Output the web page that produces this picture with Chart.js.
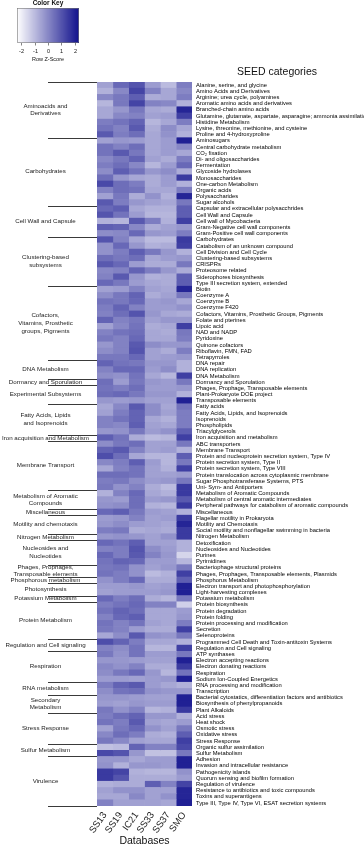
<!DOCTYPE html>
<html><head><meta charset="utf-8">
<script src="https://cdn.jsdelivr.net/npm/chart.js@4.4.1/dist/chart.umd.min.js"></script>
<style>html,body{margin:0;padding:0;background:#fff;}#wrap{width:364px;height:850px;}</style>
</head><body><div id="wrap"><canvas id="c" width="364" height="850"></canvas></div>
<script>
const FONT = "'Liberation Sans', Arial, Helvetica, sans-serif";
const columns = ["SS13","SS19","IC21","SS33","SS37","SMO"];
const groupNames = [
 ["Aminoacids and","Derivatives"],["Carbohydrates"],["Cell Wall and Capsule"],["Clustering-based","subsystems"],
 ["Cofactors,","Vitamins, Prosthetic","groups, Pigments"],["DNA Metabolism"],["Dormancy and Sporulation"],["Experimental Subsystems"],
 ["Fatty Acids, Lipids","and Isoprenoids"],["Iron acquisition and Metabolism"],["Membrane Transport"],["Metabolism of Aromatic","Compounds"],
 ["Miscellaneous"],["Motility and chemotaxis"],["Nitrogen Metabolism"],["Nucleosides and","Nucleotides"],
 ["Phages, Prophages,","Transposable elements"],["Phosphorous metabolism"],["Photosynthesis"],["Potassium Metabolism"],
 ["Protein Metabolism"],["Regulation and Cell signaling"],["Respiration"],["RNA metabolism"],["Secondary","Metabolism"],
 ["Stress Response"],["Sulfur Metabolism"],["Virulence"]
];
const rowLabels = [
 "Alanine, serine, and glycine","Amino Acids and Derivatives","Arginine; urea cycle, polyamines","Aromatic amino acids and derivatives","Branched-chain amino acids","Glutamine, glutamate, aspartate, asparagine; ammonia assimilation","Histidine Metabolism","Lysine, threonine, methionine, and cysteine","Proline and 4-hydroxyproline",
 "Aminosugars","Central carbohydrate metabolism","CO\u2082 fixation","Di- and oligosaccharides","Fermentation","Glycoside hydrolases","Monosaccharides","One-carbon Metabolism","Organic acids","Polysaccharides","Sugar alcohols",
 "Capsular and extracellular polysacchrides","Cell Wall and Capsule","Cell wall of Mycobacteria","Gram-Negative cell wall components","Gram-Positive cell wall components",
 "Carbohydrates","Catabolism of an unknown compound","Cell Division and Cell Cycle","Clustering-based subsystems","CRISPRs","Proteosome related","Siderophores biosynthesis","Type III secretion system, extended",
 "Biotin","Coenzyme A","Coenzyme B","Coenzyme F420","Cofactors, Vitamins, Prosthetic Groups, Pigments","Folate and pterines","Lipoic acid","NAD and NADP","Pyridoxine","Quinone cofactors","Riboflavin, FMN, FAD","Tetrapyrroles",
 "DNA repair","DNA replication","DNA Metabolism",
 "Dormancy and Sporulation",
 "Phages, Prophage, Transposable elements","Plant-Prokaryote DOE project","Transposable elements",
 "Fatty acids","Fatty Acids, Lipids, and Isoprenoids","Isoprenoids","Phospholipids","Triacylglycerols",
 "Iron acquisition and metabolism",
 "ABC transporters","Membrane Transport","Protein and nucleoprotein secretion system, Type IV","Protein secretion system, Type II","Protein secretion system, Type VIII","Protein translocation across cytoplasmic membrane","Sugar Phosphotransferase Systems, PTS","Uni- Sym- and Antiporters",
 "Metabolism of Aromatic Compounds","Metabolism of central aromatic intermediates","Peripheral pathways for catabolism of aromatic compounds",
 "Miscellaneous",
 "Flagellar motility in Prokaryota","Motility and Chemotaxis","Social motility and nonflagellar swimming in bacteria",
 "Nitrogen Metabolism",
 "Detoxification","Nucleosides and Nucleotides","Purines","Pyrimidines",
 "Bacteriophage structural proteins","Phages, Prophages, Transposable elements, Plasmids",
 "Phosphorus Metabolism",
 "Electron transport and photophosphorylation","Light-harvesting complexes",
 "Potassium metabolism",
 "Protein biosynthesis","Protein degradation","Protein folding","Protein processing and modification","Secretion","Selenoproteins",
 "Programmed Cell Death and Toxin-antitoxin Systems","Regulation and Cell signaling",
 "ATP synthases","Electron accepting reactions","Electron donating reactions","Respiration","Sodium Ion-Coupled Energetics",
 "RNA processing and modification","Transcription",
 "Bacterial cytostatics, differentiation factors and antibiotics","Biosynthesis of phenylpropanoids","Plant Alkaloids",
 "Acid stress","Heat shock","Osmotic stress","Oxidative stress","Stress Response",
 "Organic sulfur assimilation","Sulfur Metabolism",
 "Adhesion","Invasion and intracellular resistance","Pathogenicity islands","Quorum sensing and biofilm formation","Regulation of virulence","Resistance to antibiotics and toxic compounds","Toxins and superantigens","Type III, Type IV, Type VI, ESAT secretion systems"
];
// Row z-scores per group, columns: SS13, SS19, IC21, SS33, SS37, SMO
const zAmino = [[-0.5,0.6,1.0,-0.4,-1.0,0.2],[-0.8,0.0,1.3,0.1,-0.6,0.0],[0.0,0.3,0.8,-0.7,-0.6,0.2],[-0.9,0.3,1.3,0.1,0.0,-0.8],[-0.6,-0.3,0.3,-0.6,-0.7,1.9],[-0.6,0.0,0.1,-0.5,-0.4,1.4],[0.2,0.4,0.7,-0.9,-0.6,0.2],[0.4,0.1,0.9,-0.7,-0.1,-0.6],[0.9,0.2,0.5,-0.6,-0.2,-0.8]];
const zCarb = [[-0.5,-0.3,-0.4,-0.6,-0.4,2.0],[0.4,0.1,0.5,-0.6,-0.4,0.0],[0.4,0.9,0.3,-0.6,-0.4,-0.6],[0.0,0.3,0.7,-0.5,-0.7,0.2],[0.2,0.5,0.0,-0.9,-0.4,0.6],[-0.1,0.8,0.4,-0.3,-0.1,-0.7],[0.5,-0.3,-0.6,-0.7,-0.4,1.5],[1.2,0.5,0.2,-0.7,-0.4,-0.8],[0.1,0.5,0.4,-0.6,-0.6,0.2],[-0.5,0.3,-0.7,-0.2,-0.8,1.9],[0.9,0.2,-0.3,-0.5,-0.6,0.3]];
const zCellWall = [[0.6,0.8,-0.6,-0.8,-0.8,0.8],[1.0,0.4,-0.4,-0.9,-0.9,0.8],[-0.8,-0.9,0.9,0.2,-0.8,1.4],[0.8,0.7,0.0,-0.7,-0.5,-0.3],[-0.1,0.0,0.6,-0.3,-0.4,0.2]];
const zCluster = [[1.0,0.1,-0.6,-1.0,-1.0,1.5],[-0.2,0.6,-0.3,-0.8,-0.7,1.4],[-0.2,0.2,0.8,0.3,-0.3,-0.8],[0.5,0.3,0.5,-0.6,-0.4,-0.3],[0.9,0.6,-0.4,-0.7,-0.7,0.3],[0.0,0.1,0.7,0.2,-0.3,-0.7],[0.1,0.9,-0.3,-0.8,-0.7,0.8],[0.6,0.3,-0.4,-0.6,-0.7,0.8]];
const zCofactor = [[-0.5,-0.4,0.1,-0.5,-0.6,1.9],[-0.1,0.3,0.7,-0.7,-0.5,0.3],[0.4,0.3,0.6,-0.4,-0.3,-0.6],[0.2,0.7,0.1,-0.4,-0.4,-0.2],[0.1,0.5,1.0,-0.3,-0.6,-0.7],[0.7,0.1,0.3,-0.5,-0.3,-0.3],[-0.5,0.0,0.4,-0.7,-0.6,1.4],[0.1,0.4,0.5,-0.6,-0.7,0.3],[0.3,0.1,0.6,-0.6,-0.6,0.2],[-0.3,0.1,0.9,-0.1,-0.3,-0.3],[-0.1,0.1,1.0,-0.5,-0.7,0.2],[0.3,0.3,0.6,-0.5,-0.4,-0.3]];
const zDNA = [[0.7,0.4,0.3,-0.3,-0.3,-0.8],[0.1,0.6,0.6,-0.4,-0.1,-0.8],[-0.1,-0.2,0.4,-0.6,-0.9,1.4]];
const zDormancy = [[0.5,-0.4,0.3,-0.3,-0.4,0.3]];
const zExperimental = [[0.4,0.2,0.5,-0.4,-0.4,-0.3],[0.5,0.6,0.3,-0.3,-0.3,-0.8],[-0.3,-0.4,-0.3,-0.5,-0.5,2.0]];
const zFatty = [[-0.6,0.0,0.9,-0.1,-0.6,0.4],[-0.5,0.2,0.7,-0.1,-0.5,0.2],[0.1,0.4,0.7,-0.6,-0.8,0.2],[0.1,0.0,0.8,-0.5,-0.6,0.2],[-0.3,-0.2,0.3,-0.4,-0.2,0.8]];
const zIron = [[0.8,0.4,-0.7,-1.0,-0.9,1.4]];
const zMembrane = [[-0.1,0.3,0.5,-0.5,-0.5,0.3],[0.7,0.9,0.1,-0.5,-0.4,-0.8],[1.1,0.5,-0.6,-0.9,-0.9,0.8],[0.0,0.2,0.8,-0.4,-0.9,0.3],[-0.6,0.1,0.4,-0.5,-0.8,1.4],[0.5,0.5,0.4,-0.5,-0.5,-0.4],[0.2,0.3,-0.1,-0.4,-0.3,0.3],[0.3,-0.2,0.1,-0.7,-1.0,1.5]];
const zAromatic = [[-0.8,0.1,0.6,-0.6,-0.8,1.5],[-0.3,-0.4,0.5,-0.4,-0.3,0.9],[-0.2,-0.1,0.5,-0.8,-0.9,1.5]];
const zMisc = [[0.6,0.8,0.3,-0.4,-0.5,-0.8]];
const zMotility = [[-0.4,-0.3,0.1,-0.5,-0.4,1.5],[-0.3,-0.1,-0.4,-0.5,-0.6,1.9],[0.2,0.3,-0.7,-0.6,-0.7,1.5]];
const zNitrogen = [[-0.3,-0.2,-0.3,-0.5,-0.2,1.5]];
const zNucleo = [[0.6,0.4,0.8,-0.5,-0.5,-0.8],[0.1,0.2,1.0,-0.1,-0.4,-0.8],[0.6,0.2,0.9,0.1,-0.3,-1.5],[0.4,0.7,0.6,-0.4,-0.4,-0.9]];
const zPhages = [[0.3,0.4,-0.2,-0.5,-0.3,0.3],[0.4,0.2,-0.2,-1.0,-0.8,1.4]];
const zPhosphorus = [[-0.2,0.2,0.6,-0.7,-0.7,0.8]];
const zPhoto = [[-0.4,-0.4,-0.3,-0.5,-0.4,2.0],[-0.5,-0.4,-0.4,-0.4,-0.3,2.0]];
const zPotassium = [[0.6,0.2,0.5,-0.7,-0.9,0.3]];
const zProtein = [[0.2,0.4,0.6,0.1,0.1,-1.4],[0.4,0.7,0.5,-0.6,-0.6,-0.4],[0.1,0.6,0.8,-0.6,-0.6,-0.3],[0.4,0.1,0.4,-0.5,-0.6,0.2],[0.3,0.1,-0.4,-0.7,-0.7,1.4],[-0.6,-0.1,0.9,-0.2,-0.3,0.3]];
const zRegulation = [[1.1,0.7,0.2,-0.6,-0.6,-0.8],[0.1,-0.1,0.4,-0.9,-0.9,1.4]];
const zRespiration = [[0.3,-0.2,0.4,-0.4,-0.4,0.3],[-0.3,-0.3,-0.4,-0.5,-0.5,2.0],[0.0,-0.2,0.1,-0.7,-0.7,1.5],[-0.1,0.3,0.6,-0.3,-0.9,0.4],[-0.4,-0.4,-0.5,-0.4,-0.3,2.0]];
const zRNA = [[0.2,0.7,0.9,-0.4,-0.6,-0.8],[-0.1,0.4,0.5,-0.2,-0.3,-0.3]];
const zSecondary = [[-0.3,-0.3,-0.4,-0.5,-0.5,2.0],[-0.4,-0.5,-0.3,-0.4,-0.4,2.0],[0.3,-0.2,0.1,-0.9,-0.8,1.5]];
const zStress = [[0.2,0.5,0.7,-0.3,-0.3,-0.8],[0.4,0.2,0.9,-0.5,-0.6,-0.4],[-0.5,0.3,0.6,-0.2,-0.5,0.3],[0.0,0.5,0.2,-0.7,-0.8,0.8],[0.3,0.0,-0.5,-0.6,-0.6,1.4]];
const zSulfur = [[-1.1,-1.0,0.7,0.1,0.1,1.2],[1.2,1.0,-0.3,-1.1,-1.1,0.3]];
const zVirulence = [[-0.3,-0.3,-0.6,-0.4,-0.4,2.0],[-0.2,-0.8,-0.3,-0.3,-0.4,2.0],[1.5,1.3,-0.8,-0.9,-0.9,-0.2],[1.5,1.0,-0.7,-0.7,-0.7,-0.4],[-0.8,-0.7,-0.7,0.8,0.1,1.3],[-0.5,-0.2,-0.2,-0.5,-0.5,1.9],[-0.6,-0.6,0.0,-0.5,-0.2,1.9],[0.1,-0.5,-0.5,-0.5,-0.6,2.0]];

const groupZ = [zAmino,zCarb,zCellWall,zCluster,zCofactor,zDNA,zDormancy,zExperimental,zFatty,zIron,zMembrane,zAromatic,zMisc,zMotility,zNitrogen,zNucleo,zPhages,zPhosphorus,zPhoto,zPotassium,zProtein,zRegulation,zRespiration,zRNA,zSecondary,zStress,zSulfur,zVirulence];
const zRows = groupZ.flat();

const LOW = [255,255,255], HIGH = [16,16,140], ZMIN = -2.3, ZMAX = 2.3;
function colorFor(z){
  const t = Math.max(0, Math.min(1, (z - ZMIN) / (ZMAX - ZMIN)));
  const c = LOW.map((l,i)=>Math.round(l + (HIGH[i]-l)*t));
  return `rgb(${c[0]},${c[1]},${c[2]})`;
}
const groupBounds = [-0.5], groupCenters = [];
{ let s = 0; groupZ.forEach(g => { groupCenters.push(s + (g.length-1)/2); s += g.length; groupBounds.push(s - 0.5); }); }

const datasets = columns.map((name, ci) => ({
  label: name,
  data: zRows.map(() => [ci, ci + 1]),
  backgroundColor: zRows.map(r => colorFor(r[ci])),
  borderWidth: 0, barPercentage: 1, categoryPercentage: 1, grouped: false,
  xAxisID: 'x', yAxisID: 'y'
}));

const decor = {
  id: 'decor',
  afterDraw(chart){
    const ctx = chart.ctx, ys = chart.scales.yg, ca = chart.chartArea;
    ctx.save();
    ctx.strokeStyle = '#3a3a3a'; ctx.lineWidth = 1;
    groupBounds.forEach(v => {
      const y = Math.round(ys.getPixelForValue(v)) + 0.5;
      ctx.beginPath(); ctx.moveTo(48, y); ctx.lineTo(ca.left, y); ctx.stroke();
    });
    ctx.fillStyle = '#111'; ctx.font = `10.5px ${FONT}`; ctx.textAlign = 'center'; ctx.textBaseline = 'middle';
    ctx.fillText('SEED categories', 277, 72);
    const kx0 = 17, kx1 = 79, ky0 = 8, ky1 = 43;
    for (let x = kx0; x < kx1; x++) {
      const z = ZMIN + (x + 0.5 - kx0) / (kx1 - kx0) * (ZMAX - ZMIN);
      ctx.fillStyle = colorFor(z); ctx.fillRect(x, ky0, 1, ky1 - ky0);
    }
    ctx.strokeStyle = '#777'; ctx.lineWidth = 0.6; ctx.strokeRect(kx0 + 0.5, ky0 + 0.5, kx1 - kx0 - 1, ky1 - ky0 - 1);
    ctx.fillStyle = '#111'; ctx.font = `bold 6.5px ${FONT}`; ctx.fillText('Color Key', 48, 3.5);
    ctx.font = `5.5px ${FONT}`; ctx.strokeStyle = '#333';
    [-2,-1,0,1,2].forEach(t => {
      const x = Math.round(kx0 + (t - ZMIN) / (ZMAX - ZMIN) * (kx1 - kx0)) + 0.5;
      ctx.beginPath(); ctx.moveTo(x, ky1); ctx.lineTo(x, ky1 + 2.5); ctx.stroke();
      ctx.fillText(String(t), x, 51);
    });
    ctx.fillText('Row Z-Score', 48, 59.5);
    ctx.restore();
  }
};

new Chart(document.getElementById('c'), {
  type: 'bar',
  data: { labels: rowLabels, datasets },
  options: {
    indexAxis: 'y', responsive: false, animation: false, devicePixelRatio: 1,
    layout: { padding: { top: 82, left: 0, right: 0, bottom: 0 } },
    plugins: { legend: { display: false }, tooltip: { enabled: false }, title: { display: false } },
    scales: {
      x: {
        type: 'linear', position: 'bottom', min: 0, max: columns.length,
        grid: { display: false, drawTicks: false }, border: { display: false },
        afterBuildTicks: s => { s.ticks = columns.map((c, i) => ({ value: i + 0.5 })); },
        ticks: { autoSkip: false, minRotation: 55, maxRotation: 55, padding: 4, color: '#222',
                 font: { size: 9.5, family: FONT }, callback: v => columns[Math.floor(v)] },
        title: { display: true, text: 'Databases', color: '#111', font: { size: 10.5, family: FONT }, padding: { top: 0, bottom: 3 } },
        afterFit: s => { s.height = 44; }
      },
      y: {
        type: 'category', position: 'right', offset: true,
        grid: { display: false, drawTicks: false, offset: true }, border: { display: false },
        ticks: { autoSkip: false, padding: 4, color: '#000', font: { size: 5.8, family: FONT } },
        afterFit: s => { s.width = 172; }
      },
      yg: {
        type: 'linear', position: 'left', offset: false, min: -0.5, max: rowLabels.length - 0.5, reverse: true,
        grid: { display: false, drawTicks: false, offset: false }, border: { display: false },
        afterBuildTicks: s => { s.ticks = groupCenters.map(v => ({ value: v })); },
        ticks: { autoSkip: false, crossAlign: 'center', padding: 8, color: '#222',
                 font: { size: 6.2, family: FONT, lineHeight: 1.25 }, callback: (v, i) => groupNames[i] },
        afterFit: s => { s.width = 97; }
      }
    }
  },
  plugins: [decor]
});
</script></body></html>
